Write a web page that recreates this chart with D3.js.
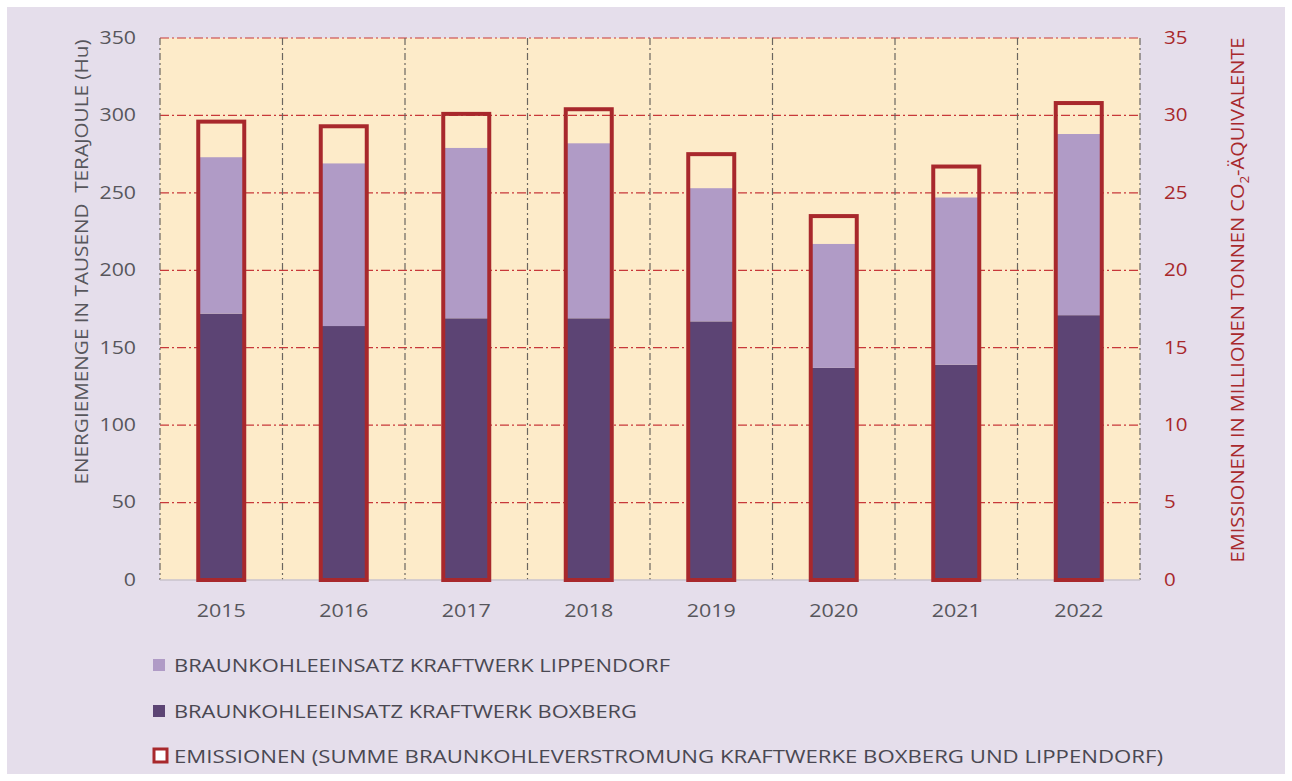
<!DOCTYPE html>
<html>
<head>
<meta charset="utf-8">
<script src="https://cdn.jsdelivr.net/npm/d3@7"></script>
<style>
  body { margin: 0; background: #fff; }
  svg { display: block; font-family: "Open Sans", sans-serif; }
</style>
</head>
<body>
<svg id="chart" width="1292" height="781"></svg>
<script>
const years = ['2015', '2016', '2017', '2018', '2019', '2020', '2021', '2022'];
const boxberg = [172, 164, 169, 169, 167, 137, 139, 171];
const lippendorf = [101, 105, 110, 113, 86, 80, 108, 117];
const emissions = [29.6, 29.3, 30.1, 30.4, 27.5, 23.5, 26.7, 30.8];
const leftTicks = [0, 50, 100, 150, 200, 250, 300, 350];
const rightTicks = [0, 5, 10, 15, 20, 25, 30, 35];
const legendLabels = [
  'BRAUNKOHLEEINSATZ KRAFTWERK LIPPENDORF',
  'BRAUNKOHLEEINSATZ KRAFTWERK BOXBERG',
  'EMISSIONEN (SUMME BRAUNKOHLEVERSTROMUNG KRAFTWERKE BOXBERG UND LIPPENDORF)'
];
const legendWidths = [496, 463, 989];

const colors = { boxberg: '#5c4474', lippendorf: '#b09bc6', emis: '#a8282c', grey: '#57565c' };

const svg = d3.select('#chart');
const margin = { top: 38, bottom: 201, left: 160, right: 152 };
const W = 1292, H = 781;

// stretch text horizontally a bit, the original font runs wider than Open Sans
function widen(sel, k) {
  sel.each(function() {
    const len = this.getComputedTextLength();
    d3.select(this).attr('textLength', len * k).attr('lengthAdjust', 'spacingAndGlyphs');
  });
}

svg.append('rect').attr('x', 7).attr('y', 7).attr('width', W - 14).attr('height', H - 14).attr('fill', '#e5deeb');

const x = d3.scaleBand().domain(years).range([margin.left, W - margin.right]);
const yL = d3.scaleLinear().domain([0, 350]).range([H - margin.bottom, margin.top]);
const yR = d3.scaleLinear().domain([0, 35]).range([H - margin.bottom, margin.top]);

svg.append('rect')
  .attr('x', margin.left).attr('y', margin.top)
  .attr('width', W - margin.left - margin.right)
  .attr('height', H - margin.top - margin.bottom)
  .attr('fill', '#fdebc9');

// horizontal grid
svg.append('g').selectAll('line').data(leftTicks.filter(d => d > 0)).enter().append('line')
  .attr('x1', margin.left).attr('x2', W - margin.right)
  .attr('y1', d => yL(d)).attr('y2', d => yL(d))
  .attr('stroke', '#c8383a').attr('stroke-width', 1.2)
  .attr('stroke-dasharray', '9,3,2,3');

// vertical grid
const bounds = years.map(d => x(d)).concat([W - margin.right]);
svg.append('g').selectAll('line').data(bounds).enter().append('line')
  .attr('x1', d => d).attr('x2', d => d)
  .attr('y1', margin.top).attr('y2', H - margin.bottom)
  .attr('stroke', '#6b6660').attr('stroke-width', 1.2)
  .attr('stroke-dasharray', '7,3,2,3');

svg.append('line')
  .attr('x1', margin.left).attr('x2', W - margin.right)
  .attr('y1', yL(0)).attr('y2', yL(0))
  .attr('stroke', '#c9c3cc').attr('stroke-width', 1.5);

const barW = 44;
const cx = d => x(d) + x.bandwidth() / 2;

const bars = svg.append('g');
bars.selectAll('rect.box').data(years).enter().append('rect')
  .attr('x', d => cx(d) - barW / 2).attr('width', barW)
  .attr('y', (d, i) => yL(boxberg[i]))
  .attr('height', (d, i) => yL(0) - yL(boxberg[i]))
  .attr('fill', colors.boxberg);
bars.selectAll('rect.lip').data(years).enter().append('rect')
  .attr('x', d => cx(d) - barW / 2).attr('width', barW)
  .attr('y', (d, i) => yL(boxberg[i] + lippendorf[i]))
  .attr('height', (d, i) => yL(boxberg[i]) - yL(boxberg[i] + lippendorf[i]))
  .attr('fill', colors.lippendorf);
bars.selectAll('rect.emis').data(years).enter().append('rect')
  .attr('x', d => cx(d) - 23).attr('width', 46)
  .attr('y', (d, i) => yR(emissions[i]))
  .attr('height', (d, i) => yR(0) - yR(emissions[i]))
  .attr('fill', 'none').attr('stroke', colors.emis).attr('stroke-width', 4);

// axes
const left = svg.append('g').attr('transform', `translate(${margin.left - 24},0)`)
  .call(d3.axisLeft(yL).tickValues(leftTicks).tickSize(0).tickPadding(0));
left.select('.domain').remove();
left.selectAll('text').attr('fill', colors.grey).attr('dy', '0.28em')
  .style('font-size', '19px').style('font-family', '"Open Sans", sans-serif');

const right = svg.append('g').attr('transform', `translate(${W - margin.right + 24},0)`)
  .call(d3.axisRight(yR).tickValues(rightTicks).tickSize(0).tickPadding(0));
right.select('.domain').remove();
right.selectAll('text').attr('fill', colors.emis).attr('dy', '0.28em')
  .style('font-size', '19px').style('font-family', '"Open Sans", sans-serif');

const bottom = svg.append('g').attr('transform', `translate(0,${H - margin.bottom + 37})`)
  .call(d3.axisBottom(x).tickSize(0).tickPadding(0));
bottom.select('.domain').remove();
bottom.selectAll('text').attr('fill', colors.grey).attr('dy', '0')
  .style('font-size', '19px').style('font-family', '"Open Sans", sans-serif');

widen(left.selectAll('text'), 1.12);
widen(right.selectAll('text'), 1.08);
widen(bottom.selectAll('text'), 1.13);

// axis titles
svg.append('text')
  .attr('transform', 'translate(88,262) rotate(-90)')
  .attr('text-anchor', 'middle').attr('fill', colors.grey).style('font-size', '18px')
  .attr('textLength', 445).attr('lengthAdjust', 'spacingAndGlyphs')
  .text('ENERGIEMENGE IN TAUSEND  TERAJOULE (Hu)').attr('xml:space', 'preserve');

const rt = svg.append('text')
  .attr('transform', 'translate(1244,300) rotate(-90)')
  .attr('text-anchor', 'middle').attr('fill', colors.emis).style('font-size', '18px')
  .attr('textLength', 525).attr('lengthAdjust', 'spacingAndGlyphs');
rt.append('tspan').text('EMISSIONEN IN MILLIONEN TONNEN CO');
rt.append('tspan').attr('dy', 5).style('font-size', '12px').text('2');
rt.append('tspan').attr('dy', -5).text('-ÄQUIVALENTE');

// legend
const legend = svg.append('g');
const ly = [665, 711, 756];
legend.selectAll('rect.sw').data(legendLabels).enter().append('rect')
  .attr('x', (d, i) => i === 2 ? 154 : 153)
  .attr('y', (d, i) => ly[i] - (i === 2 ? 7 : 6))
  .attr('width', (d, i) => i === 2 ? 13 : 12)
  .attr('height', (d, i) => i === 2 ? 13 : 12)
  .attr('fill', (d, i) => [colors.lippendorf, colors.boxberg, '#fff'][i])
  .attr('stroke', (d, i) => i === 2 ? colors.emis : 'none')
  .attr('stroke-width', 3);
legend.selectAll('text').data(legendLabels).enter().append('text')
  .attr('x', 174).attr('y', (d, i) => ly[i]).attr('dy', '0.36em')
  .attr('fill', '#4a4852').style('font-size', '18.5px')
  .attr('textLength', (d, i) => legendWidths[i]).attr('lengthAdjust', 'spacingAndGlyphs')
  .text(d => d);
</script>
</body>
</html>
